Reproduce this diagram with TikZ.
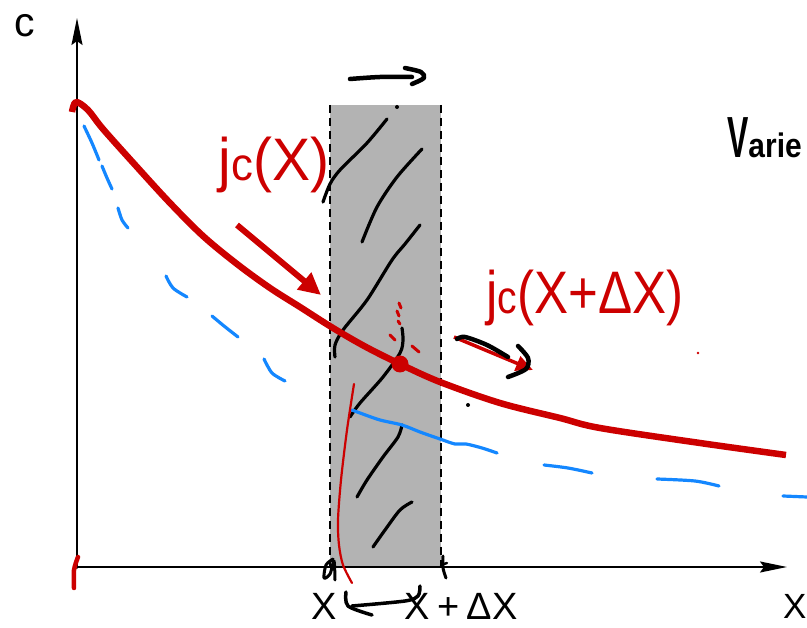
\documentclass[tikz,border=0pt]{standalone}
\usepackage{fontspec}
\setmainfont{Liberation Sans}
\usetikzlibrary{arrows.meta}
\definecolor{myred}{RGB}{204,0,0}
\definecolor{myblue}{RGB}{20,135,255}
\definecolor{mygray}{RGB}{179,179,179}
\begin{document}
\begin{tikzpicture}[x=1pt,y=-1pt, line cap=round, line join=round,
  axisline/.style={line width=2pt, black, -{Stealth[length=27pt,width=11pt,inset=4pt]}},
  borderline/.style={line width=2pt, black, dash pattern=on 8pt off 5pt, line cap=butt},
  hatch/.style={line width=3.2pt, black},
  scribble/.style={line width=4.5pt, black},
  blueline/.style={line width=3.2pt, myblue},
  redcurve/.style={line width=6.5pt, myred, line cap=butt},
  redthin/.style={line width=2.2pt, myred},
  reddash/.style={line width=3pt, myred},
  lbl/.style={inner sep=0pt, font=\fontsize{38}{38}\selectfont},
  redlbl/.style={inner sep=0pt, text=myred, font=\fontsize{60}{60}\selectfont}]
\useasboundingbox (0,0) rectangle (807,628);

% slab
\fill[mygray] (330,105) rectangle (441,567);
\coordinate (bl1) at (330,105); \coordinate (bl2) at (330,567);
\coordinate (br1) at (441,105); \coordinate (br2) at (441,567);
\draw[borderline] (bl1) -- (bl2);
\draw[borderline] (br1) -- (br2);

% axes
\coordinate (O) at (77,567);
\coordinate (ytip) at (77,18);
\coordinate (xtip) at (787,567);
\draw[axisline] (77,568) -- (ytip);
\draw[axisline] (O) -- (xtip);

% hatching
\draw[hatch] plot[smooth] coordinates {(323,202) (330,184) (340,170) (367,143) (387,119)};
\draw[hatch] plot[smooth] coordinates {(362,242) (377,207) (397,177) (422,149)};
\draw[hatch] plot[smooth] coordinates {(420,225) (405,244) (392,260) (367,300) (343,330) (335,345) (335,357)};
\draw[hatch] plot[smooth] coordinates {(402,328) (403,340) (400,353) (383,377) (360,403) (350,417)};
\draw[hatch] plot[smooth] coordinates {(402,425) (398,437) (383,457) (367,480) (357,497)};
\draw[hatch] plot[smooth] coordinates {(412,502) (400,510) (385,530) (373,547)};

% blue curve (hand-drawn dashes)
\draw[blueline] plot[smooth] coordinates {(84,126) (92,143) (99,160)};
\draw[blueline] plot[smooth] coordinates {(102,166) (107,178) (112,189)};
\draw[blueline] plot[smooth] coordinates {(118,208) (122,220) (128,228)};
\draw[blueline] plot[smooth] coordinates {(166,276) (173,288) (187,297)};
\draw[blueline] plot[smooth] coordinates {(212,316) (224,326) (238,337)};
\draw[blueline] plot[smooth] coordinates {(264,359) (272,373) (285,381)};
\draw[blueline] plot[smooth] coordinates {(352,410) (360,413) (380,420) (402,425) (420,432) (440,439) (455,444) (466,444) (482,448) (497,453)};
\draw[blueline] plot[smooth] coordinates {(544,465) (568,468) (592,473)};
\draw[blueline] plot[smooth] coordinates {(657,479) (695,481) (719,486)};
\draw[blueline] plot[smooth] coordinates {(783,496) (807,497)};

% red thin line
\draw[redthin] plot[smooth] coordinates {(354,384) (347,430) (341,480) (338,520) (339,545) (343,565) (352,583)};

% main red curve
\draw[redcurve] plot[smooth, tension=0.55] coordinates {(72,112) (76,102) (88,110) (103,129) (137,167) (170,203) (203,236) (237,264) (270,288) (300,307) (333,328) (366,347) (400,364) (440,382) (500,403) (560,418) (600,428) (700,443) (786,455)};
\fill[myred] (400,364) circle (8.5);
\draw[reddash] (399,303) -- (401,308);
\draw[reddash] (397,311) -- (399,316);
\draw[reddash] (398,321) -- (400,324);
\draw[reddash] (390,335) -- (395,340);
\draw[reddash] (412,346) -- (419,352);
\fill[myred] (698,353) circle (1.3);

% red axis marks
\draw[line width=4.5pt, myred] plot[smooth] coordinates {(78,557) (74,570) (74,588)};

% red flux arrows
\coordinate (a1s) at (237,225); \coordinate (a1e) at (321,295);
\draw[line width=6pt, myred, line cap=butt, -{Triangle[length=22pt,width=21pt]}] (a1s) -- (a1e);
\coordinate (a2s) at (454,337); \coordinate (a2e) at (533,370);
\draw[line width=3.5pt, myred, line cap=butt, -{Triangle[length=17pt,width=15pt]}] (a2s) -- (a2e);

% black scribble arrows
\draw[scribble] plot[smooth] coordinates {(457,339) (465,337) (487,345) (508,357)};
\draw[scribble] plot[smooth] coordinates {(518,346) (528,358) (526,369) (508,377)};
\draw[scribble] plot[smooth] coordinates {(350,79) (380,77) (412,77)};
\draw[scribble] plot[smooth] coordinates {(405,68) (421,72) (424,78) (412,84)};
\fill[black] (397,107) circle (2);
\fill[black] (468,405) circle (2);

% small marks at x axis
\draw[line width=3pt, black] plot[smooth] coordinates {(333,559) (326,565) (324,578) (330,574) (334,561) (335,580)};
\draw[line width=3pt, black] plot[smooth] coordinates {(443,556) (443,568) (446,578)};
\draw[line width=2.5pt, black] (441,565) -- (447,563);
\draw[line width=3.5pt, black] plot[smooth] coordinates {(420,586) (418,596) (405,601) (352,606)};
\draw[line width=3.5pt, black] plot[smooth] coordinates {(346,592) (348,606) (372,615)};

% labels
\node[lbl, font=\fontsize{41}{41}\selectfont] (clab) at (24.5,26) {c};
\node[lbl, anchor=west, font=\fontsize{35}{35}\selectfont] (xlab) at (783,606) {X};
\node[lbl] (xl) at (324,606) {X};
\node[lbl] (xr) at (461,606) {X\hspace{0.2em}+\hspace{0.2em}ΔX};
\node[redlbl] (j1) at (274,165) {\scalebox{0.95}[1]{j{\fontsize{46}{46}\selectfont c}(X)}};
\node[redlbl] (j2) at (585,298) {\scalebox{0.85}[1]{j{\fontsize{46}{46}\selectfont c}(X+ΔX)}};
\node[inner sep=0pt, anchor=base west] (vlab) at (727,158) {\bfseries\scalebox{0.55}[1]{\fontsize{58}{58}\selectfont V}\scalebox{0.88}[1]{\fontsize{34}{34}\selectfont arie}};
\end{tikzpicture}
\end{document}
